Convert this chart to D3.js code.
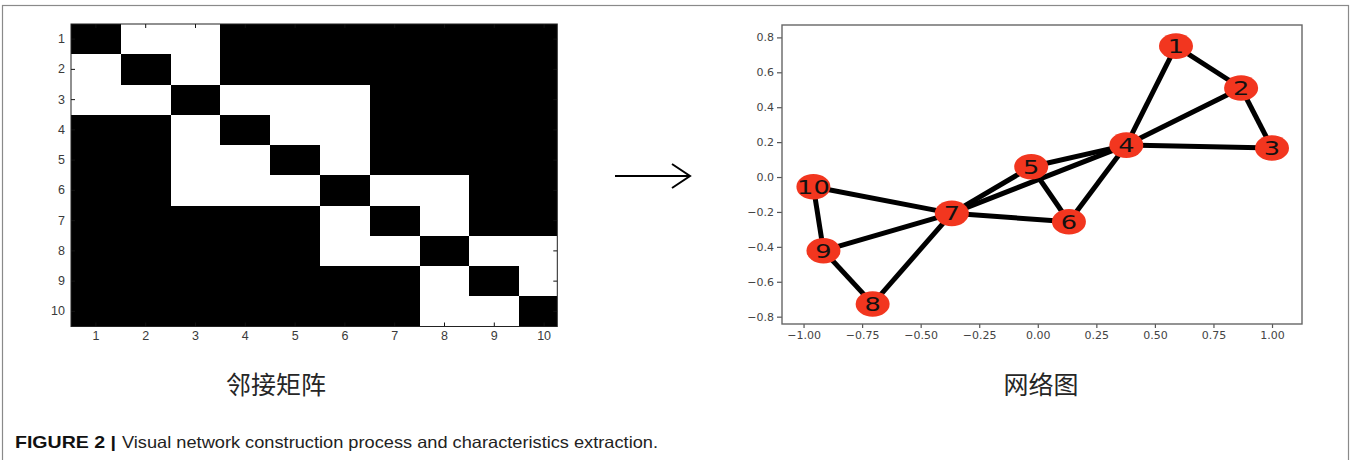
<!DOCTYPE html>
<html><head><meta charset="utf-8">
<script src="https://cdn.jsdelivr.net/npm/d3@7"></script>
<style>body{margin:0;background:#fff}svg{display:block}</style>
</head><body>
<svg id="chart" width="1352" height="460"></svg>
<script>
// ---------- data ----------
const matrixLabels = [1,2,3,4,5,6,7,8,9,10];
const adjacency = [
  [0,1,1,0,0,0,0,0,0,0],
  [1,0,1,0,0,0,0,0,0,0],
  [1,1,0,1,1,1,0,0,0,0],
  [0,0,1,0,1,1,0,0,0,0],
  [0,0,1,1,0,1,0,0,0,0],
  [0,0,1,1,1,0,1,1,0,0],
  [0,0,0,0,0,1,0,1,0,0],
  [0,0,0,0,0,1,1,0,1,1],
  [0,0,0,0,0,0,0,1,0,1],
  [0,0,0,0,0,0,0,1,1,0]
];
const nodeIds = ["1","2","3","4","5","6","7","8","9","10"];
const nodeX = [0.590, 0.868, 1.000, 0.378, -0.028, 0.133, -0.367, -0.705, -0.915, -0.958];
const nodeY = [0.750, 0.510, 0.166, 0.183, 0.059, -0.256, -0.208, -0.727, -0.422, -0.056];
const edgeSource = ["1","1","2","2","3","4","4","4","5","5","6","7","7","7","8","9"];
const edgeTarget = ["2","4","3","4","4","5","6","7","6","7","7","8","9","10","9","10"];
const xTicks = [-1, -0.75, -0.5, -0.25, 0, 0.25, 0.5, 0.75, 1];
const yTicks = [-0.8, -0.6, -0.4, -0.2, 0, 0.2, 0.4, 0.6, 0.8];
const xLimits = [-1.092, 1.128];
const yLimits = [-0.842, 0.871];
const matrixTitle = "邻接矩阵";
const networkTitle = "网络图";
const captionBold = "FIGURE 2 |";
const captionText = "Visual network construction process and characteristics extraction.";

// ---------- drawing ----------
const svg = d3.select("#chart");

// outer frame
svg.append("rect").attr("x", 2.5).attr("y", 5.5).attr("width", 1346).attr("height", 520)
  .attr("fill", "none").attr("stroke", "#8a8a8a").attr("stroke-width", 1.2);

// ---- adjacency matrix ----
const mLeft = 71, mTop = 24, mClipRight = 557.3, mBottom = 326.5;
const mx = d3.scaleBand().domain(matrixLabels).range([mLeft, mLeft + 498]).padding(0);
const my = d3.scaleBand().domain(matrixLabels).range([mTop, mBottom]).padding(0);

svg.append("defs").append("clipPath").attr("id", "mclip")
  .append("rect").attr("x", mLeft).attr("y", mTop)
  .attr("width", mClipRight - mLeft).attr("height", mBottom - mTop);

const cells = [];
adjacency.forEach((row, i) => row.forEach((v, j) => cells.push({r: matrixLabels[i], c: matrixLabels[j], v})));

const mg = svg.append("g").attr("clip-path", "url(#mclip)");
mg.append("rect").attr("x", mLeft).attr("y", mTop)
  .attr("width", mClipRight - mLeft).attr("height", mBottom - mTop).attr("fill", "#000");
mg.selectAll("rect.cell").data(cells.filter(d => d.v)).join("rect").attr("class", "cell")
  .attr("x", d => mx(d.c)).attr("y", d => my(d.r))
  .attr("width", mx.bandwidth()).attr("height", my.bandwidth())
  .attr("fill", "#ffffff").attr("shape-rendering", "crispEdges");

function styleMatrixAxis(g) {
  g.select(".domain").remove();
  g.selectAll(".tick line").attr("stroke", "#111").attr("stroke-width", 1);
  g.selectAll("text").attr("font-family", "Liberation Sans, Arial, sans-serif")
    .attr("font-size", 12.5).attr("fill", "#3a3a3a");
}
const mClipAxis = svg.append("g").attr("clip-path", "url(#mclip)");
svg.append("g").attr("transform", `translate(0,${mBottom})`)
  .call(d3.axisBottom(mx).tickSize(0).tickPadding(5)).call(styleMatrixAxis);
svg.append("g").attr("transform", `translate(${mLeft},0)`)
  .call(d3.axisLeft(my).tickSize(0).tickPadding(6)).call(styleMatrixAxis);
// inward ticks on all four sides
mClipAxis.append("g").attr("transform", `translate(0,${mBottom})`)
  .call(d3.axisBottom(mx).tickSize(-4).tickFormat("")).call(styleMatrixAxis);
mClipAxis.append("g").attr("transform", `translate(0,${mTop})`)
  .call(d3.axisTop(mx).tickSize(-4).tickFormat("")).call(styleMatrixAxis);
mClipAxis.append("g").attr("transform", `translate(${mLeft},0)`)
  .call(d3.axisLeft(my).tickSize(-4).tickFormat("")).call(styleMatrixAxis);
mClipAxis.append("g").attr("transform", `translate(${mClipRight},0)`)
  .call(d3.axisRight(my).tickSize(-4).tickFormat("")).call(styleMatrixAxis);

svg.append("rect").attr("x", mLeft).attr("y", mTop)
  .attr("width", mClipRight - mLeft).attr("height", mBottom - mTop)
  .attr("fill", "none").attr("stroke", "#222").attr("stroke-width", 1);

svg.append("text").attr("x", 276).attr("y", 383).attr("text-anchor", "middle")
  .attr("dominant-baseline", "central")
  .attr("font-family", "Noto Sans CJK SC").attr("font-size", 25).attr("fill", "#262626")
  .text(matrixTitle);

// ---- arrow ----
const arrow = svg.append("g").attr("stroke", "#000").attr("stroke-width", 2).attr("fill", "none");
arrow.append("line").attr("x1", 615).attr("y1", 176).attr("x2", 689).attr("y2", 176);
arrow.append("path").attr("d", "M672,164 L690,176 L672,188").attr("stroke-linejoin", "miter");

// ---- network graph ----
const nLeft = 782, nRight = 1302, nTop = 25, nBottom = 324;
const nx = d3.scaleLinear().domain(xLimits).range([nLeft, nRight]);
const ny = d3.scaleLinear().domain(yLimits).range([nBottom, nTop]);

const fmtX = d3.format(".2f"), fmtY = d3.format(".1f");
function styleNetAxis(g) {
  g.select(".domain").remove();
  g.selectAll(".tick line").attr("stroke", "#555").attr("stroke-width", 1.2);
  g.selectAll("text").attr("font-family", "DejaVu Sans").attr("font-size", 11).attr("fill", "#444");
}
svg.append("g").attr("transform", `translate(0,${nBottom})`)
  .call(d3.axisBottom(nx).tickValues(xTicks).tickFormat(fmtX).tickSize(4).tickPadding(3)).call(styleNetAxis);
svg.append("g").attr("transform", `translate(${nLeft},0)`)
  .call(d3.axisLeft(ny).tickValues(yTicks).tickFormat(fmtY).tickSize(5).tickPadding(3)).call(styleNetAxis);

svg.append("rect").attr("x", nLeft).attr("y", nTop).attr("width", nRight - nLeft).attr("height", nBottom - nTop)
  .attr("fill", "none").attr("stroke", "#666").attr("stroke-width", 1.4);

const nodes = nodeIds.map((id, i) => ({id, x: nodeX[i], y: nodeY[i]}));
const byId = new Map(nodes.map(n => [n.id, n]));
const edges = edgeSource.map((s, i) => ({s: byId.get(s), t: byId.get(edgeTarget[i])}));

svg.append("g").selectAll("line").data(edges).join("line")
  .attr("x1", d => nx(d.s.x)).attr("y1", d => ny(d.s.y))
  .attr("x2", d => nx(d.t.x)).attr("y2", d => ny(d.t.y))
  .attr("stroke", "#000").attr("stroke-width", 5);

const ng = svg.append("g").selectAll("g").data(nodes).join("g")
  .attr("transform", d => `translate(${nx(d.x)},${ny(d.y)})`);
ng.append("ellipse").attr("rx", 17).attr("ry", 12.8).attr("fill", "#f2361f");
ng.append("text").attr("transform", "scale(1.35,1)").attr("text-anchor", "middle")
  .attr("dy", "0.36em").attr("font-family", "DejaVu Sans").attr("font-size", 19).attr("fill", "#111")
  .text(d => d.id);

svg.append("text").attr("x", 1041).attr("y", 383).attr("text-anchor", "middle")
  .attr("dominant-baseline", "central")
  .attr("font-family", "Noto Sans CJK SC").attr("font-size", 25).attr("fill", "#262626")
  .text(networkTitle);

// ---- caption ----
svg.append("text").attr("x", 15).attr("y", 448)
  .attr("font-family", "Liberation Sans, Arial, sans-serif").attr("font-weight", "bold")
  .attr("font-size", 16.5).attr("fill", "#111")
  .attr("textLength", 101).attr("lengthAdjust", "spacingAndGlyphs")
  .text(captionBold);
svg.append("text").attr("x", 122).attr("y", 448)
  .attr("font-family", "Liberation Sans, Arial, sans-serif")
  .attr("font-size", 16.5).attr("fill", "#222")
  .attr("textLength", 536).attr("lengthAdjust", "spacingAndGlyphs")
  .text(captionText);
</script>
</body></html>
